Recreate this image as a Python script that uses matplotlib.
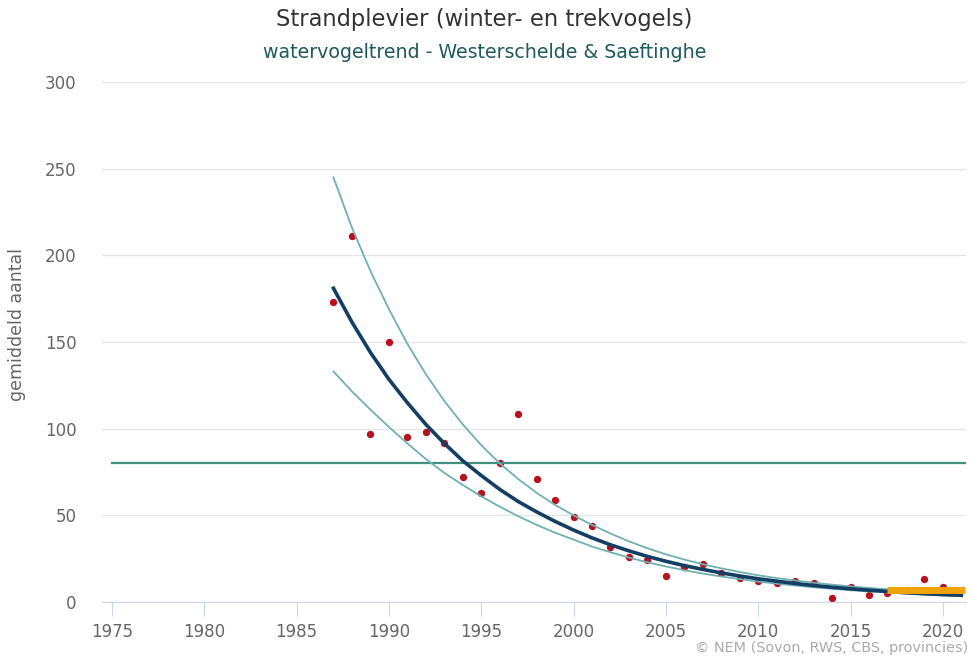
import numpy as np
import matplotlib
matplotlib.use("Agg")
import matplotlib.pyplot as plt

# observed yearly averages (red dots)
obs_years = [1987, 1988, 1989, 1990, 1991, 1992, 1993, 1994, 1995, 1996, 1997,
             1998, 1999, 2000, 2001, 2002, 2003, 2004, 2005, 2006, 2007, 2008,
             2009, 2010, 2011, 2012, 2013, 2014, 2015, 2016, 2017, 2018, 2019, 2020]
obs_values = [173, 211, 97, 150, 95, 98, 92, 72, 63, 80, 108.5,
              71, 59, 49, 44, 32, 26, 24.5, 15, 20, 22, 17,
              14, 12, 11, 12, 11, 2.5, 8.8, 4, 5, 7, 13, 8.8]

# modelled trend with confidence band
trend_years = list(range(1987, 2022))
trend = [181, 161.5, 144, 128.5, 115, 102.5, 91.5, 81.5, 73, 65, 58, 52,
         46.5, 41.5, 37, 33, 29.5, 26.3, 23.5, 21, 18.8, 16.8, 15, 13.4, 12,
         10.7, 9.5, 8.5, 7.6, 6.8, 6.1, 5.4, 4.8, 4.3, 3.9]
upper = [245, 216, 191, 169, 149, 131.5, 116, 102.5, 90.5, 80, 71, 63, 56,
         50, 44.5, 39.5, 35, 31, 27.5, 24.5, 21.8, 19.4, 17.3, 15.4, 13.8,
         12.4, 11.1, 10, 9, 8.1, 7.3, 6.6, 6, 5.4, 4.9]
lower = [133, 121.5, 111, 101, 91.5, 82.5, 74.5, 67.5, 61, 55, 49.5, 44.5,
         40, 36, 32, 28.7, 25.6, 22.9, 20.5, 18.3, 16.4, 14.7, 13.2, 11.8,
         10.6, 9.5, 8.5, 7.6, 6.8, 6.1, 5.4, 4.8, 4.3, 3.8, 3.4]

# recent period (orange)
recent_years = [2017, 2021.2]
recent_values = [7, 7]

# reference level
norm_years = [1975, 2021.25]
norm_values = [80, 80]

title = 'Strandplevier (winter- en trekvogels)'
subtitle = 'watervogeltrend - Westerschelde & Saeftinghe'
credit = '\u00a9 NEM (Sovon, RWS, CBS, provincies)'

plt.rcParams['font.family'] = ['DejaVu Sans']

fig = plt.figure(figsize=(9.72, 6.59), dpi=100)
ax = fig.add_axes([0.1046, 0.0865, 0.8892, 0.7891])

ax.scatter(obs_years, obs_values, s=28, color='#b8101f', zorder=2, linewidths=0)
ax.plot(norm_years, norm_values, color='#44907c', linewidth=1.6, zorder=3)
ax.plot(trend_years, upper, color='#6fb0b3', linewidth=1.3, zorder=3)
ax.plot(trend_years, lower, color='#6fb0b3', linewidth=1.3, zorder=3)
ax.plot(trend_years, trend, color='#123f63', linewidth=2.6, zorder=4)
ax.plot(recent_years, recent_values, color='#f0a30a', linewidth=5,
        solid_capstyle='butt', zorder=5)

ax.set_xlim(1974.45, 2021.25)
ax.set_ylim(0, 300)
ax.set_xticks(np.arange(1975, 2021, 5))
ax.set_yticks(np.arange(0, 301, 50))

ax.grid(axis='y', color='#e6e6e6', linewidth=1)
ax.set_axisbelow(True)
for side in ['top', 'right', 'left']:
    ax.spines[side].set_visible(False)
ax.spines['bottom'].set_color('#ccd6eb')
ax.tick_params(axis='x', length=10, color='#ccd6eb', labelcolor='#666666',
               labelsize=12, pad=5)
ax.tick_params(axis='y', length=0, labelcolor='#666666', labelsize=12, pad=18)

ax.set_ylabel('gemiddeld aantal', color='#666666', fontsize=12.5)
ax.yaxis.set_label_coords(-0.0876, 0.534)

fig.text(0.4985, 0.970, title, ha='center', va='center', fontsize=16.3,
         color='#333333')
fig.text(0.4985, 0.921, subtitle, ha='center', va='center', fontsize=13.7,
         color='#1f5a5e')
fig.text(0.996, 0.0167, credit, ha='right', va='center', fontsize=10.4,
         color='#aaaaaa')

plt.savefig('out.png', dpi=100)
